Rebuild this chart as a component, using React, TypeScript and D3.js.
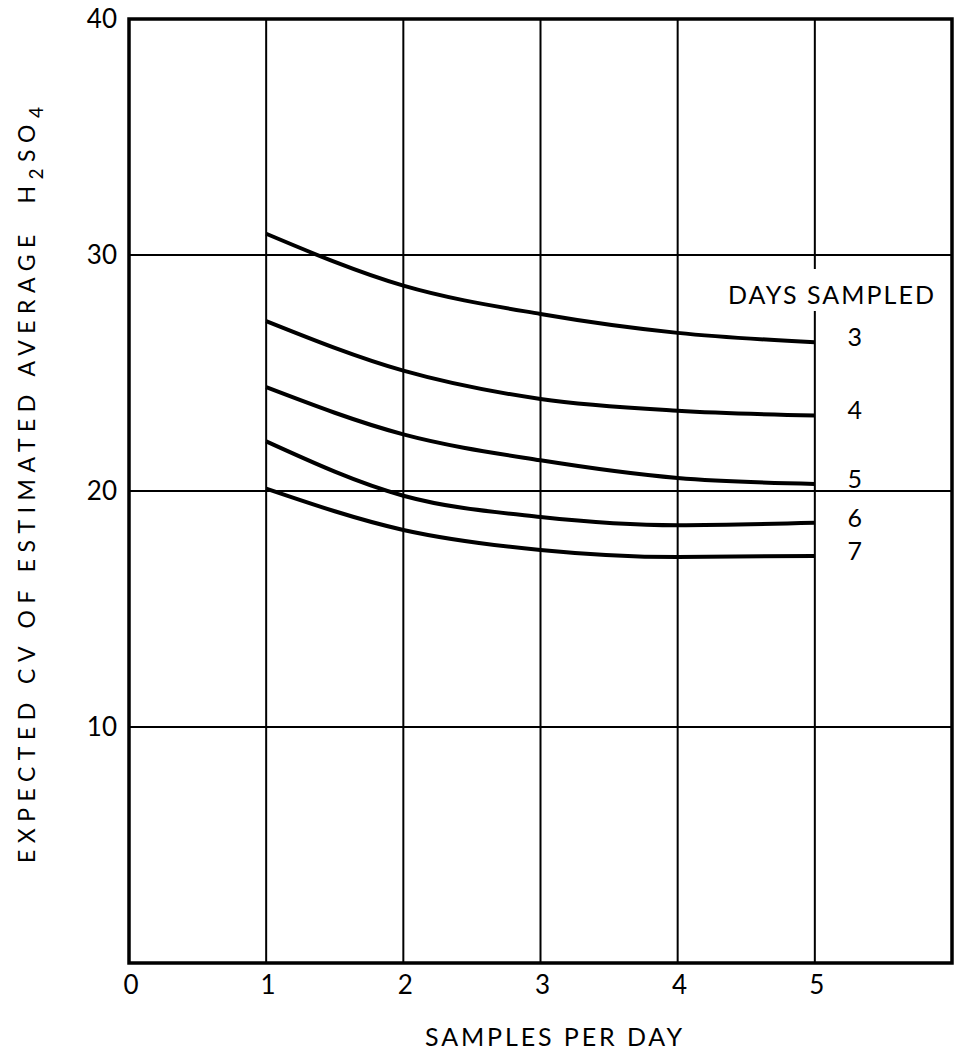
import * as d3 from "d3";
import { useEffect, useRef } from "react";

// samples per day (x) and expected CV for each "days sampled" curve
const samplesPerDay = [1, 2, 3, 4, 5];
const daysSampled = ["3", "4", "5", "6", "7"];
const cvDays3 = [30.9, 28.7, 27.5, 26.7, 26.3];
const cvDays4 = [27.2, 25.1, 23.9, 23.4, 23.2];
const cvDays5 = [24.4, 22.4, 21.3, 20.55, 20.3];
const cvDays6 = [22.1, 19.8, 18.9, 18.55, 18.65];
const cvDays7 = [20.1, 18.35, 17.5, 17.2, 17.25];

const xTicks = [0, 1, 2, 3, 4, 5];
const yTicks = [10, 20, 30, 40];

export default function App() {
  const ref = useRef<SVGSVGElement>(null);

  useEffect(() => {
    const svg = d3.select(ref.current);
    svg.selectAll("*").remove();

    const font = "Lato, 'Noto Sans', sans-serif";
    const x = d3.scaleLinear().domain([0, 6]).range([129, 952]);
    const y = d3.scaleLinear().domain([0, 40]).range([963, 19]);

    const series = [cvDays3, cvDays4, cvDays5, cvDays6, cvDays7].map((vals, i) => ({
      label: daysSampled[i],
      points: samplesPerDay.map((s, j) => [s, vals[j]] as [number, number]),
    }));

    // grid
    svg.append("g")
      .selectAll("line")
      .data(samplesPerDay)
      .join("line")
      .attr("x1", d => x(d)).attr("x2", d => x(d))
      .attr("y1", y(40)).attr("y2", y(0))
      .attr("stroke", "#000").attr("stroke-width", 2);
    svg.append("g")
      .selectAll("line")
      .data(yTicks.filter(d => d < 40))
      .join("line")
      .attr("x1", x(0)).attr("x2", x(6))
      .attr("y1", d => y(d)).attr("y2", d => y(d))
      .attr("stroke", "#000").attr("stroke-width", 2);

    // frame
    svg.append("rect")
      .attr("x", x(0)).attr("y", y(40))
      .attr("width", x(6) - x(0)).attr("height", y(0) - y(40))
      .attr("fill", "none").attr("stroke", "#000").attr("stroke-width", 3.5);

    // curves
    const line = d3.line<[number, number]>()
      .x(d => x(d[0]))
      .y(d => y(d[1]))
      .curve(d3.curveMonotoneX);
    svg.append("g")
      .selectAll("path")
      .data(series)
      .join("path")
      .attr("d", d => line(d.points))
      .attr("fill", "none")
      .attr("stroke", "#000")
      .attr("stroke-width", 4);

    // legend title with white backing over the grid line
    svg.append("rect")
      .attr("x", 722).attr("y", y(30) + 14)
      .attr("width", 218).attr("height", 42)
      .attr("fill", "#fff");
    svg.append("text")
      .attr("x", 728).attr("y", 304)
      .attr("font-family", font).attr("font-size", 25)
      .attr("textLength", 206).attr("lengthAdjust", "spacing")
      .text("DAYS SAMPLED");

    svg.append("g")
      .selectAll("text")
      .data(series)
      .join("text")
      .attr("x", x(5) + 40)
      .attr("y", d => y(d.points[d.points.length - 1][1]) - 5)
      .attr("dy", "0.35em")
      .attr("text-anchor", "middle")
      .attr("font-family", font).attr("font-size", 25)
      .text(d => d.label);

    // y tick labels
    svg.append("g")
      .selectAll("text")
      .data(yTicks)
      .join("text")
      .attr("x", x(0) - 12)
      .attr("y", d => y(d))
      .attr("dy", "0.35em")
      .attr("text-anchor", "end")
      .attr("font-family", font).attr("font-size", 26)
      .text(d => d);

    // x tick labels
    svg.append("g")
      .selectAll("text")
      .data(xTicks)
      .join("text")
      .attr("x", d => x(d) + 2)
      .attr("y", 985)
      .attr("dy", "0.35em")
      .attr("text-anchor", "middle")
      .attr("font-family", font).attr("font-size", 26)
      .text(d => d);

    // x title
    svg.append("text")
      .attr("x", 425).attr("y", 1046)
      .attr("font-family", font).attr("font-size", 25)
      .attr("textLength", 257).attr("lengthAdjust", "spacing")
      .text("SAMPLES PER DAY");

    // y title
    const yt = svg.append("text")
      .attr("transform", "translate(35,863) rotate(-90)")
      .attr("font-family", font).attr("font-size", 23)
      .attr("textLength", 756).attr("lengthAdjust", "spacing");
    yt.append("tspan").text("EXPECTED CV OF ESTIMATED AVERAGE\u00a0\u00a0H");
    yt.append("tspan").attr("dy", 8).attr("font-size", 19).text("2");
    yt.append("tspan").attr("dy", -8).text("SO");
    yt.append("tspan").attr("dy", 8).attr("font-size", 19).text("4");
  }, []);

  return (
    <svg
      ref={ref}
      width={959}
      height={1052}
      style={{ position: "absolute", left: 0, top: 0, background: "#fff" }}
    />
  );
}
